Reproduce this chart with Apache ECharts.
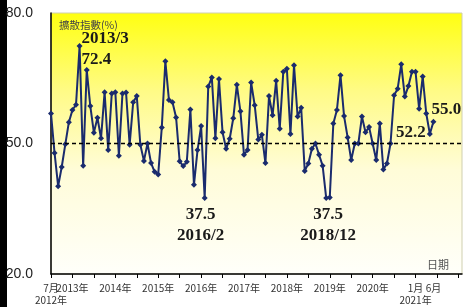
<!DOCTYPE html>
<html>
<head>
<meta charset="utf-8">
<script src="https://cdn.jsdelivr.net/npm/echarts@6/dist/echarts.min.js"></script>
<style>
  html, body { margin: 0; padding: 0; background: #fff; }
  #chart { width: 465px; height: 307px; }
</style>
</head>
<body>
<div id="chart"></div>
<script>
// months Jul 2012 .. (axis runs a little past the last data point)
var months = [];
for (var k = 0; k < 116; k++) {
  var m = 6 + k;
  months.push((2012 + Math.floor(m / 12)) + '/' + (m % 12 + 1));
}

// diffusion index (%), Jul 2012 - Jun 2021
var diffusion = [
  56.9, 47.8, 40.2, 44.6, 49.8, 54.9, 57.7, 58.9, 72.4, 44.9,
  66.9, 58.6, 52.5, 55.9, 51.2, 61.8, 48.5, 61.5, 61.8, 47.2,
  61.5, 61.7, 49.7, 59.5, 60.9, 49.7, 46.0, 50.0, 45.5, 43.5,
  42.9, 53.7, 68.9, 60.0, 59.5, 56.0, 45.9, 44.8, 45.8, 57.8,
  40.5, 48.5, 54.0, 37.5, 63.1, 65.2, 51.2, 64.8, 52.6, 48.8,
  51.1, 55.8, 63.5, 57.4, 47.4, 48.5, 64.0, 58.8, 50.9, 52.0,
  45.5, 60.9, 56.5, 64.4, 53.4, 66.5, 67.2, 52.2, 68.0, 56.2,
  58.2, 43.7, 45.4, 48.8, 50.0, 47.4, 44.9, 37.5, 37.6, 54.6,
  57.7, 65.7, 56.3, 51.4, 46.2, 50.0, 50.0, 56.2, 52.6, 53.8,
  50.0, 46.2, 54.6, 44.0, 45.4, 50.0, 61.1, 62.6, 68.2, 60.8,
  63.2, 66.5, 66.5, 58.0, 65.4, 56.9, 52.2, 55.0
];

// x tick labels and where they sit
var xLabelIdx = [0, 6, 18, 30, 42, 54, 66, 78, 90, 102, 107];
var xLabels = ['7月\n2012年', '2013年', '2014年', '2015年', '2016年', '2017年',
  '2018年', '2019年', '2020年', '1月\n2021年', '6月'];

var yTicks = [20, 50, 80];

var chart = echarts.init(document.getElementById('chart'));

var serif = { fontFamily: 'Liberation Serif', fontWeight: 'bold', fontSize: 17, color: '#1a1a1a', lineHeight: 21 };

function note(i, text, offset, align) {
  return {
    coord: [months[i], diffusion[i]],
    label: Object.assign({ show: true, position: 'inside', formatter: text, offset: offset, align: align || 'center' }, serif)
  };
}

chart.setOption({
  animation: false,
  graphic: [{
    type: 'rect',
    left: 0, top: 0,
    shape: { width: 7, height: 307 },
    style: { fill: '#000' }
  }],
  grid: {
    left: 51,
    right: 0,
    top: 13,
    bottom: 33,
    show: true,
    borderColor: '#cfcfb0',
    borderWidth: 1,
    backgroundColor: new echarts.graphic.LinearGradient(0, 0, 0, 1, [
      { offset: 0, color: '#ffff10' },
      { offset: 0.3, color: '#fffb86' },
      { offset: 0.6, color: '#fffcd8' },
      { offset: 1, color: '#fffffa' }
    ])
  },
  xAxis: {
    type: 'category',
    data: months,
    boundaryGap: false,
    name: '日期',
    nameLocation: 'end',
    nameGap: -13,
    nameTextStyle: { align: 'right', verticalAlign: 'bottom', padding: [0, 0, 4, 0], fontSize: 11, color: '#555', fontFamily: 'Noto Sans CJK TC' },
    axisLine: { lineStyle: { color: '#000', width: 1.5 } },
    axisTick: {
      show: true,
      length: 4,
      interval: function (i) { return i % 6 === 0; },
      lineStyle: { color: '#000' }
    },
    axisLabel: {
      interval: 0,
      hideOverlap: false,
      formatter: function (v, i) {
        var p = xLabelIdx.indexOf(i);
        return p < 0 ? '' : xLabels[p];
      },
      fontSize: 10,
      lineHeight: 12,
      color: '#333',
      margin: 8,
      fontFamily: 'Noto Sans CJK TC'
    },
    splitLine: { show: false }
  },
  yAxis: {
    type: 'value',
    min: yTicks[0],
    max: yTicks[2],
    interval: yTicks[1] - yTicks[0],
    name: '擴散指數(%)',
    nameLocation: 'end',
    nameGap: -12,
    nameTextStyle: { align: 'left', verticalAlign: 'middle', padding: [0, 0, 0, 8], fontSize: 10.5, color: '#444', fontFamily: 'Noto Sans CJK TC' },
    axisLine: { show: true, lineStyle: { color: '#000', width: 1.5 } },
    axisTick: { show: false },
    splitLine: { show: false },
    axisLabel: {
      formatter: function (v) { return v.toFixed(1); },
      fontSize: 14,
      color: '#222',
      margin: 18,
      fontFamily: 'Liberation Sans'
    }
  },
  series: [{
    type: 'line',
    data: diffusion,
    symbol: 'diamond',
    symbolSize: 6,
    showAllSymbol: true,
    itemStyle: { color: '#1a2b6d' },
    lineStyle: { color: '#1a2b6d', width: 2 },
    markLine: {
      silent: true,
      symbol: 'none',
      label: { show: false },
      lineStyle: { color: '#000', type: [4, 3], width: 1.3 },
      data: [{ yAxis: 50 }]
    },
    markPoint: {
      symbol: 'circle',
      symbolSize: 0,
      data: [
        note(8, '2013/3\n72.4', [2, 3], 'left'),
        note(43, '37.5\n2016/2', [-4, 27]),
        note(77, '37.5\n2018/12', [2, 27]),
        note(106, '52.2', [-19, -1]),
        note(107, '55.0', [13, -12])
      ]
    }
  }]
});
</script>
</body>
</html>
